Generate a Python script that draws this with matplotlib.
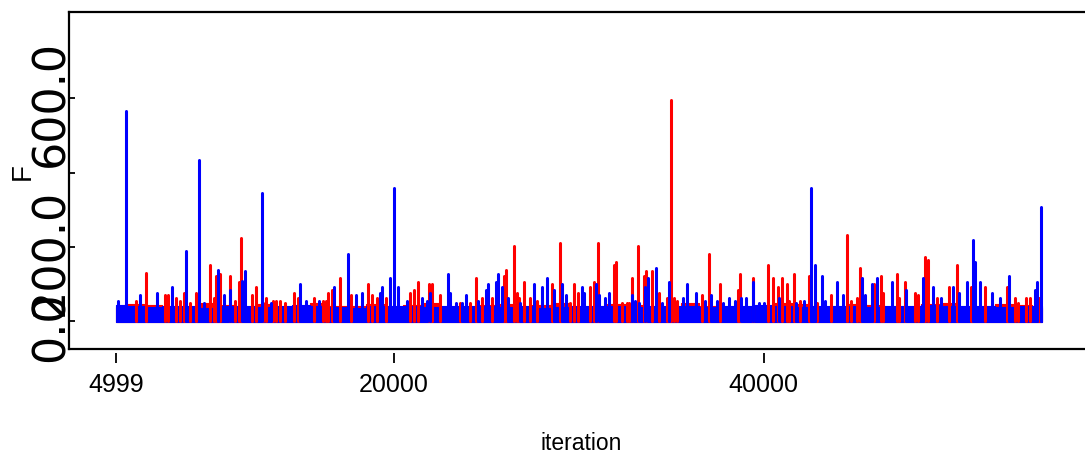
import matplotlib
matplotlib.use("Agg")
import matplotlib.pyplot as plt
from matplotlib.transforms import ScaledTranslation

# ---- chain 1 (red): iteration and value of each visible excursion ----
red_iter = [6080, 6620, 7620, 7830, 8240, 8450, 8670, 8990, 9320, 10070,
            10270, 10400, 10640, 11150, 11420, 11640, 11730, 12370, 12570, 12930,
            13100, 13470, 13630, 13850, 14120, 14610, 14820, 15700, 16170, 16330,
            16460, 16660, 17100, 17720, 18620, 18830, 19090, 19570, 20880, 21100,
            21310, 21890, 22050, 22500, 23570, 24100, 24430, 24750, 25290, 25940,
            26050, 26500, 26640, 26750, 27060, 27340, 27770, 28530, 28960, 29500,
            29720, 29970, 30600, 30810, 31030, 31880, 32000, 32360, 32580, 32690,
            32860, 33190, 33510, 33620, 33970, 34360, 34790, 35010, 35170, 35330,
            36680, 37060, 37610, 38610, 38690, 39430, 40200, 40510, 40740, 40980,
            41270, 41380, 41610, 41970, 42450, 42890, 43640, 44510, 44720, 45050,
            45170, 45960, 46340, 46450, 47220, 47310, 47650, 48180, 48340, 48730,
            48850, 49360, 49990, 50460, 51200, 51950, 53140, 53570, 53730, 54170,
            54380, 54870]
red_val = [55, 129, 70, 70, 62, 55, 77, 48, 76, 151,
           62, 121, 128, 121, 55, 106, 225, 69, 92, 48,
           62, 55, 55, 55, 48, 76, 62, 62, 55, 55,
           76, 85, 115, 70, 99, 70, 62, 62, 76, 83,
           106, 99, 99, 70, 48, 48, 115, 62, 62, 121,
           137, 203, 76, 62, 106, 62, 55, 99, 209, 48,
           99, 76, 92, 106, 209, 151, 158, 48, 48, 48,
           115, 203, 121, 135, 135, 76, 62, 595, 62, 55,
           70, 180, 99, 85, 128, 115, 151, 115, 92, 115,
           99, 55, 128, 55, 121, 48, 70, 232, 55, 62,
           144, 99, 121, 76, 128, 62, 106, 76, 70, 173,
           165, 62, 92, 151, 92, 92, 92, 62, 48, 62,
           62, 62]

# ---- chain 2 (blue): iteration and value of each visible excursion ----
blue_iter = [5110, 5540, 6320, 7210, 8040, 8790, 9470, 9750, 10490, 10830,
             11150, 11830, 11960, 12880, 13360, 14950, 15250, 15940, 16780, 17540,
             17970, 18290, 19270, 19370, 19800, 20030, 20240, 20700, 21510, 21780,
             21950, 22920, 23040, 23350, 23670, 23900, 24540, 24980, 25100, 25510,
             25620, 25830, 26190, 26840, 27600, 28010, 28310, 28640, 29070, 29300,
             30170, 30310, 30920, 31120, 31440, 31660, 32860, 33060, 33280, 33600,
             33730, 34160, 34520, 34900, 35650, 35870, 36320, 36840, 37170, 37490,
             37810, 38140, 38460, 38780, 39050, 39430, 39760, 40030, 40840, 41750,
             42180, 42560, 42790, 43140, 43320, 43970, 44290, 45280, 45480, 45840,
             46120, 46930, 47690, 48590, 49150, 49580, 50230, 50550, 51000, 51320,
             51430, 51680, 52330, 52760, 53260, 54650, 54740, 54990]
blue_val = [55, 565, 70, 76, 92, 188, 433, 48, 137, 69,
            85, 108, 135, 344, 48, 99, 55, 55, 92, 180,
            70, 76, 76, 92, 115, 357, 92, 55, 62, 55,
            76, 128, 76, 48, 48, 70, 55, 83, 99, 106,
            128, 92, 62, 48, 99, 92, 115, 83, 99, 70,
            92, 76, 99, 70, 62, 76, 70, 55, 48, 92,
            115, 144, 48, 106, 62, 99, 76, 55, 70, 55,
            48, 62, 55, 62, 62, 106, 48, 48, 62, 48,
            55, 359, 151, 121, 55, 106, 70, 115, 70, 99,
            115, 106, 85, 115, 92, 62, 92, 76, 106, 218,
            158, 106, 76, 62, 121, 83, 106, 306]

# ---- bulk of each chain (upper edge of the dense band) ----
band_iter = list(range(5000, 55001, 1000))
blue_band = [44, 40, 38, 42, 40, 36, 40, 42, 38, 40,
             44, 40, 38, 36, 40, 42, 40, 38, 40, 42,
             40, 38, 40, 36, 38, 40, 42, 40, 38, 40,
             42, 40, 38, 40, 42, 44, 40, 38, 40, 42,
             40, 38, 40, 42, 44, 40, 42, 40, 38, 40, 42]
red_band = [38, 46, 44, 38, 36, 48, 44, 38, 46, 36,
            38, 48, 42, 40, 46, 38, 44, 48, 38, 36,
            44, 46, 36, 44, 48, 38, 36, 46, 44, 36,
            38, 48, 42, 36, 38, 40, 48, 46, 36, 38,
            46, 44, 36, 38, 46, 48, 38, 36, 46, 44, 36]

xticks = [4999, 20000, 40000]
xtick_labels = ["4999", "20000", "40000"]
yticks = [0, 200, 400, 600]
ytick_labels = ["0.0", "200.0", "", "600.0"]

sans = ["Liberation Sans", "DejaVu Sans"]

W, H = 1085, 455
fig = plt.figure(figsize=(W / 100, H / 100), dpi=100)
ax = fig.add_axes([69 / W, 106 / H, 1016 / W, 337 / H])
ax.set_xlim(2460, 57350)
ax.set_ylim(-75, 832)

# red chain first, blue chain drawn over it
ax.fill_between(band_iter, -2, red_band, step="mid", color="#ff0000", lw=0.8)
ax.vlines(red_iter, 0, red_val, colors="#ff0000", lw=2.2, capstyle="round")
ax.fill_between(band_iter, -2, blue_band, step="mid", color="#0000ff", lw=0.8)
ax.vlines(blue_iter, 0, blue_val, colors="#0000ff", lw=2.2, capstyle="round")

# frame: left, top and bottom lines only
for side in ("left", "top", "bottom"):
    ax.spines[side].set_linewidth(1.6)
ax.spines["right"].set_visible(False)

# y axis: inward ticks, big rotated labels
ax.set_yticks(yticks, ytick_labels)
ax.tick_params(axis="y", direction="in", length=4.5, width=1.3, pad=13,
               labelsize=32)
offset = ScaledTranslation(0, -4 / 72, fig.dpi_scale_trans)
for lab in ax.get_yticklabels():
    lab.set_rotation(90)
    lab.set_ha("center")
    lab.set_va("center")
    lab.set_family("DejaVu Sans")
    lab.set_transform(lab.get_transform() + offset)

# x axis: ticks detached slightly below the frame
ax.set_xticks([])
sec = ax.secondary_xaxis(-4 / 337)
sec.set_xticks(xticks, xtick_labels)
sec.spines["bottom"].set_visible(False)
sec.tick_params(axis="x", direction="out", length=7.2, width=1.3, pad=7,
                labelsize=18)
for lab in sec.get_xticklabels():
    lab.set_family(sans)

fig.text(581 / W, 1 - 450 / H, "iteration", ha="center", va="baseline",
         fontsize=16.5, family=sans)
fig.text(23 / W, 1 - 172 / H, "F", rotation=90, ha="center", va="center",
         fontsize=20, family=sans)

fig.savefig("out.png", dpi=100)
